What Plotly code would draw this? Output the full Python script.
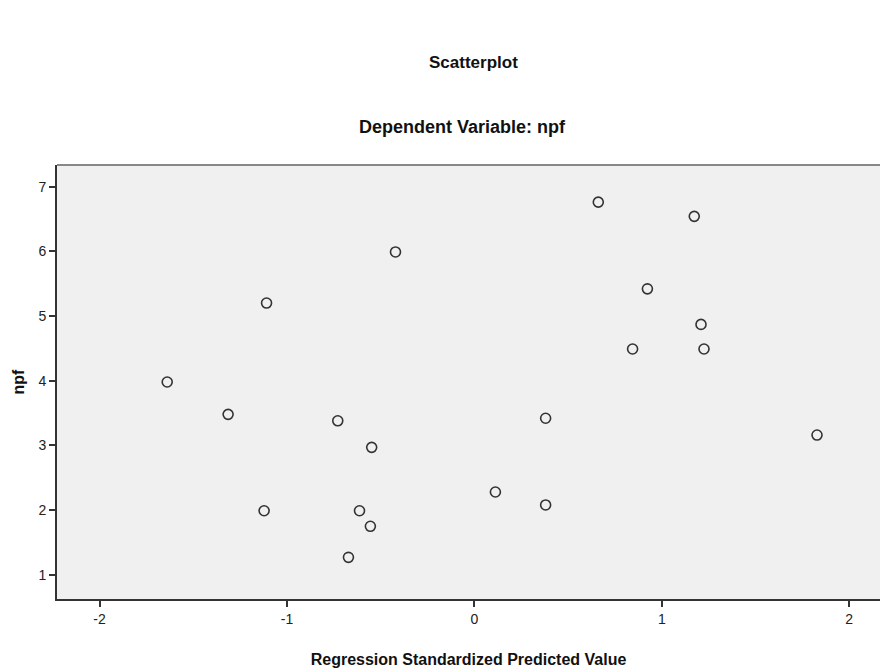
import plotly.graph_objects as go

# Regression standardized predicted value (x) vs npf (y)
pred_std = [-1.639, -1.314, -1.109, -1.122, -0.729, -0.548, -0.613, -0.555, -0.672, -0.421,
            0.112, 0.380, 0.380, 0.661, 1.173, 0.923, 1.209, 0.844, 1.225, 1.828]
npf = [3.98, 3.48, 5.20, 1.99, 3.38, 2.97, 1.99, 1.75, 1.27, 5.99,
       2.28, 3.42, 2.08, 6.76, 6.54, 5.42, 4.87, 4.49, 4.49, 3.16]

x_ticks = [-2, -1, 0, 1, 2]
y_ticks = [1, 2, 3, 4, 5, 6, 7]

W, H = 880, 668
ML, MR, MT, MB = 57, 0, 165, 67

fig = go.Figure()
fig.add_trace(go.Scatter(
    x=pred_std, y=npf, mode="markers",
    marker=dict(symbol="circle-open", size=10, color="#333333", line=dict(width=1.6, color="#333333")),
    hoverinfo="x+y", showlegend=False,
))

fig.update_layout(
    width=W, height=H,
    margin=dict(l=ML, r=MR, t=MT, b=MB),
    paper_bgcolor="white", plot_bgcolor="#f0f0f0",
    font=dict(family="Liberation Sans, Arial, sans-serif", color="#222222"),
    showlegend=False,
)

ph = H - MT - MB
pw = W - ML - MR
def py(pix):
    return (H - MB - pix) / ph
def px(pix):
    return (pix - ML) / pw

fig.add_annotation(text="<b>Scatterplot</b>", x=px(473), y=py(62), xref="paper", yref="paper",
                   showarrow=False, font=dict(size=17, color="#111111"), xanchor="center", yanchor="middle")
fig.add_annotation(text="<b>Dependent Variable: npf</b>", x=px(462), y=py(127), xref="paper", yref="paper",
                   showarrow=False, font=dict(size=18, color="#111111"), xanchor="center", yanchor="middle")

fig.add_shape(type="line", xref="paper", yref="paper", x0=0, x1=1, y0=1, y1=1,
              line=dict(color="#888888", width=2))

fig.update_xaxes(
    range=[-2.227, 2.164], tickvals=x_ticks, ticktext=[str(v) for v in x_ticks],
    showgrid=False, zeroline=False, showline=True, linecolor="#333333", linewidth=2,
    ticks="outside", ticklen=6, tickwidth=2, tickcolor="#333333",
    tickfont=dict(family="Liberation Sans Narrow, Arial Narrow, Liberation Sans, sans-serif", size=14, color="#222222"),
    title=dict(text="<b>Regression Standardized Predicted Value</b>", standoff=30,
               font=dict(family="Liberation Sans Narrow, Arial Narrow, sans-serif", size=16, color="#111111")),
)
fig.update_yaxes(
    range=[0.626, 7.334], tickvals=y_ticks, ticktext=[str(v) for v in y_ticks],
    showgrid=False, zeroline=False, showline=True, linecolor="#333333", linewidth=2,
    ticks="outside", ticklen=6, tickwidth=2, tickcolor="#333333",
    tickfont=dict(family="Liberation Sans Narrow, Arial Narrow, Liberation Sans, sans-serif", size=14, color="#222222"),
    title=dict(text="<b>npf</b>", standoff=10,
               font=dict(family="Liberation Sans, Arial, sans-serif", size=16, color="#111111")),
)

fig.write_html("out.html", config={"displayModeBar": False},
               post_script="document.body.style.margin='0px';document.body.style.padding='0px';")
